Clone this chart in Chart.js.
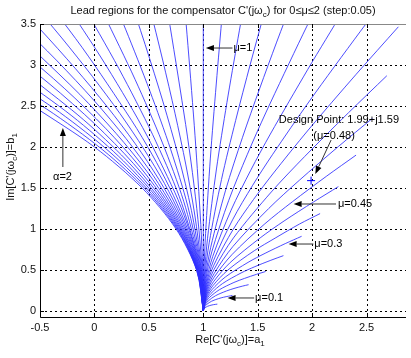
<!DOCTYPE html>
<html>
<head>
<meta charset="utf-8">
<script src="https://cdn.jsdelivr.net/npm/chart.js@4.4.0/dist/chart.umd.min.js"></script>
<style>
  html, body { margin: 0; padding: 0; background: #fff; }
  #wrap { width: 411px; height: 358px; }
</style>
</head>
<body>
<div id="wrap"><canvas id="chart"></canvas></div>
<script>
// one curve per mu, 0..2 step 0.05
const muValues = [0, 0.05, 0.1, 0.15, 0.2, 0.25, 0.3, 0.35, 0.4, 0.45, 0.5, 0.55, 0.6, 0.65, 0.7, 0.75, 0.8, 0.85, 0.9, 0.95,
  1, 1.05, 1.1, 1.15, 1.2, 1.25, 1.3, 1.35, 1.4, 1.45, 1.5, 1.55, 1.6, 1.65, 1.7, 1.75, 1.8, 1.85, 1.9, 1.95, 2];

// Re[C'] along each curve
const curveRe = [
  [1, 1],
  [1, 1.005, 1.017, 1.040, 1.071, 1.092, 1.129],
  [1, 1.010, 1.032, 1.077, 1.142, 1.186, 1.233, 1.268],
  [1, 1.014, 1.046, 1.113, 1.212, 1.282, 1.358, 1.416],
  [1, 1.018, 1.059, 1.146, 1.281, 1.379, 1.488, 1.573],
  [1, 1.021, 1.070, 1.176, 1.347, 1.474, 1.621, 1.736],
  [1, 1.024, 1.079, 1.203, 1.411, 1.568, 1.753, 1.903],
  [1, 1.026, 1.087, 1.227, 1.468, 1.660, 1.884, 2.073],
  [1, 1.028, 1.093, 1.247, 1.522, 1.742, 2.014, 2.241],
  [1, 1.029, 1.096, 1.262, 1.565, 1.818, 2.134, 2.403],
  [1, 1.029, 1.099, 1.272, 1.601, 1.882, 2.242, 2.554],
  [1, 1.029, 1.099, 1.277, 1.625, 1.932, 2.333, 2.686],
  [1, 1.028, 1.097, 1.276, 1.461, 1.638, 1.964, 2.401, 2.792],
  [1, 1.027, 1.093, 1.269, 1.454, 1.635, 1.975, 2.440, 2.862],
  [1, 1.025, 1.087, 1.255, 1.436, 1.616, 1.960, 2.124, 2.283],
  [1, 1.022, 1.078, 1.234, 1.405, 1.577, 1.913, 2.076],
  [1, 1.019, 1.068, 1.205, 1.359, 1.517, 1.674, 1.830],
  [1, 1.015, 1.054, 1.167, 1.297, 1.432, 1.568],
  [1, 1.011, 1.039, 1.121, 1.217, 1.319, 1.423],
  [1, 1.006, 1.021, 1.065, 1.119, 1.176],
  [1, 1, 1],
  [1, 0.998, 0.994, 0.977, 0.924, 0.859, 0.787],
  [1, 0.997, 0.987, 0.951, 0.900, 0.838, 0.694, 0.615],
  [1, 0.995, 0.979, 0.922, 0.840, 0.740, 0.627, 0.504],
  [1, 0.993, 0.971, 0.891, 0.774, 0.630, 0.466, 0.286],
  [1, 0.990, 0.962, 0.857, 0.701, 0.508, 0.286, 0.040],
  [1, 0.988, 0.952, 0.820, 0.622, 0.374, 0.085],
  [1, 0.985, 0.942, 0.780, 0.535, 0.225, -0.137],
  [1, 0.983, 0.931, 0.849, 0.738, 0.442, 0.064, -0.382],
  [1, 0.980, 0.920, 0.823, 0.692, 0.531, 0.341, -0.111, -0.650],
  [1, 0.977, 0.908, 0.796, 0.644, 0.455, 0.234, -0.019, -0.300, -0.608],
  [1, 0.973, 0.895, 0.767, 0.592, 0.375, 0.118, -0.176, -0.504, -0.865],
  [1, 0.970, 0.881, 0.736, 0.538, 0.290, -0.004, -0.343, -0.722],
  [1, 0.967, 0.867, 0.704, 0.481, 0.200, -0.134, -0.520],
  [1, 0.963, 0.852, 0.671, 0.421, 0.106, -0.272, -0.709],
  [1, 0.959, 0.837, 0.636, 0.358, 0.006, -0.417, -0.908],
  [1, 0.955, 0.821, 0.599, 0.292, -0.098, -0.569],
  [1, 0.951, 0.804, 0.561, 0.223, -0.207, -0.728],
  [1, 0.947, 0.787, 0.521, 0.152, -0.321, -0.895],
  [1, 0.942, 0.769, 0.480, 0.077, -0.440, -1.069],
  [1, 0.938, 0.750, 0.438, 0, -0.563],
];

// Im[C'] along each curve
const curveIm = [
  [0, 0],
  [0, 0.023, 0.040, 0.058, 0.071, 0.077, 0.084],
  [0, 0.047, 0.081, 0.120, 0.152, 0.168, 0.181, 0.190],
  [0, 0.071, 0.124, 0.187, 0.244, 0.275, 0.303, 0.321],
  [0, 0.095, 0.168, 0.258, 0.348, 0.398, 0.447, 0.482],
  [0, 0.119, 0.213, 0.334, 0.464, 0.541, 0.619, 0.675],
  [0, 0.143, 0.259, 0.415, 0.593, 0.704, 0.822, 0.911],
  [0, 0.168, 0.307, 0.501, 0.735, 0.889, 1.061, 1.188],
  [0, 0.193, 0.355, 0.591, 0.891, 1.098, 1.331, 1.517],
  [0, 0.218, 0.405, 0.686, 1.063, 1.332, 1.646, 1.901],
  [0, 0.243, 0.455, 0.787, 1.250, 1.594, 2.007, 2.350],
  [0, 0.268, 0.507, 0.891, 1.452, 1.885, 2.417, 2.869],
  [0, 0.294, 0.559, 0.999, 1.359, 1.671, 2.207, 2.882, 3.466],
  [0, 0.319, 0.612, 1.112, 1.534, 1.906, 2.560, 3.405, 4.149],
  [0, 0.345, 0.666, 1.229, 1.717, 2.158, 2.947, 3.309, 3.656],
  [0, 0.371, 0.721, 1.350, 1.911, 2.426, 3.368, 3.807],
  [0, 0.396, 0.776, 1.474, 2.113, 2.710, 3.279, 3.824],
  [0, 0.422, 0.831, 1.602, 2.323, 3.011, 3.673],
  [0, 0.448, 0.887, 1.732, 2.542, 3.327, 4.092],
  [0, 0.474, 0.944, 1.865, 2.768, 3.657],
  [0, 1.8, 3.7],
  [0, 0.263, 0.526, 1.057, 2.137, 3.238, 4.355],
  [0, 0.275, 0.552, 1.113, 1.688, 2.274, 3.480, 4.096],
  [0, 0.288, 0.578, 1.170, 1.781, 2.412, 3.060, 3.725],
  [0, 0.301, 0.604, 1.226, 1.875, 2.550, 3.249, 3.971],
  [0, 0.313, 0.630, 1.282, 1.968, 2.687, 3.437, 4.217],
  [0, 0.326, 0.656, 1.338, 2.060, 2.822, 3.623],
  [0, 0.338, 0.681, 1.393, 2.150, 2.955, 3.806],
  [0, 0.351, 0.707, 1.071, 1.448, 2.239, 3.085, 3.983],
  [0, 0.363, 0.732, 1.110, 1.501, 1.906, 2.325, 3.210, 4.154],
  [0, 0.376, 0.758, 1.149, 1.554, 1.974, 2.409, 2.861, 3.330, 3.815],
  [0, 0.389, 0.783, 1.187, 1.605, 2.039, 2.490, 2.958, 3.444, 3.948],
  [0, 0.401, 0.808, 1.225, 1.656, 2.103, 2.568, 3.050, 3.551],
  [0, 0.414, 0.833, 1.262, 1.705, 2.164, 2.641, 3.136],
  [0, 0.426, 0.857, 1.298, 1.753, 2.223, 2.710, 3.215],
  [0, 0.438, 0.882, 1.334, 1.799, 2.278, 2.774, 3.286],
  [0, 0.451, 0.906, 1.369, 1.843, 2.330, 2.832],
  [0, 0.463, 0.930, 1.403, 1.886, 2.379, 2.885],
  [0, 0.475, 0.954, 1.436, 1.926, 2.424, 2.930],
  [0, 0.488, 0.977, 1.469, 1.964, 2.464, 2.969],
  [0, 0.5, 1.0, 1.5, 2.0, 2.5],
];

const xTicks = [-0.5, 0, 0.5, 1, 1.5, 2, 2.5];
const yTicks = [0, 0.5, 1, 1.5, 2, 2.5, 3, 3.5];
const designPoint = [1.99, 1.59];

const FONT = '"Liberation Sans", Arial, Helvetica, sans-serif';

// text notes with arrows, in data coordinates
const arrowNotes = [
  { parts: [['μ=1']], tip: [1.024, 3.207], tail: [1.268, 3.207], at: [1.277, 3.207] },
  { parts: [['μ=0.45']], tip: [1.83, 1.305], tail: [2.219, 1.305], at: [2.237, 1.305] },
  { parts: [['μ=0.3']], tip: [1.784, 0.817], tail: [2.011, 0.817], at: [2.02, 0.817] },
  { parts: [['μ=0.1']], tip: [1.223, 0.159], tail: [1.467, 0.159], at: [1.476, 0.159] },
  { parts: [['α=2']], tip: [-0.29, 2.232], tail: [-0.29, 1.756], at: [-0.38, 1.634] },
  { parts: [['(μ=0.48)']], tip: [2.029, 1.671], tail: [2.174, 2.085], at: [2.011, 2.134] },
];

function drawRich(ctx, parts, x, y, align) {
  const big = '11px ' + FONT;
  const small = '8px ' + FONT;
  let w = 0;
  parts.forEach(p => { ctx.font = p[1] ? small : big; w += ctx.measureText(p[0]).width; });
  let cx = align === 'center' ? x - w / 2 : x;
  ctx.textAlign = 'left';
  ctx.textBaseline = 'middle';
  parts.forEach(p => {
    ctx.font = p[1] ? small : big;
    ctx.fillText(p[0], cx, p[1] ? y + 4 : y);
    cx += ctx.measureText(p[0]).width;
  });
}

function drawArrow(ctx, x1, y1, x2, y2) {
  const ang = Math.atan2(y2 - y1, x2 - x1);
  const len = 8, half = 3;
  ctx.beginPath();
  ctx.moveTo(x1, y1);
  ctx.lineTo(x2 - Math.cos(ang) * len, y2 - Math.sin(ang) * len);
  ctx.stroke();
  ctx.beginPath();
  ctx.moveTo(x2, y2);
  ctx.lineTo(x2 - Math.cos(ang) * len - Math.sin(ang) * half, y2 - Math.sin(ang) * len + Math.cos(ang) * half);
  ctx.lineTo(x2 - Math.cos(ang) * len + Math.sin(ang) * half, y2 - Math.sin(ang) * len - Math.cos(ang) * half);
  ctx.closePath();
  ctx.fill();
}

const gridPlugin = {
  id: 'matlabGrid',
  beforeDatasetsDraw(chart) {
    const { ctx, chartArea: a, scales: { x, y } } = chart;
    ctx.save();
    ctx.strokeStyle = '#000';
    ctx.lineWidth = 1;
    ctx.setLineDash([2, 3]);
    xTicks.forEach(v => {
      const px = Math.round(x.getPixelForValue(v)) + 0.5;
      ctx.beginPath(); ctx.moveTo(px, a.top); ctx.lineTo(px, a.bottom); ctx.stroke();
    });
    yTicks.forEach(v => {
      const py = Math.round(y.getPixelForValue(v)) + 0.5;
      ctx.beginPath(); ctx.moveTo(a.left, py); ctx.lineTo(a.right, py); ctx.stroke();
    });
    ctx.restore();
  },
  afterDatasetsDraw(chart) {
    const { ctx, chartArea: a, scales: { x, y } } = chart;
    ctx.save();
    ctx.lineWidth = 1;
    // box
    ctx.strokeStyle = '#888';
    ctx.beginPath(); ctx.moveTo(a.left, a.top + 0.5); ctx.lineTo(a.right, a.top + 0.5); ctx.stroke();
    ctx.strokeStyle = '#000';
    ctx.beginPath(); ctx.moveTo(a.left + 0.5, a.top); ctx.lineTo(a.left + 0.5, a.bottom + 0.5); ctx.lineTo(a.right, a.bottom + 0.5); ctx.stroke();
    // inward ticks
    xTicks.forEach(v => {
      const px = Math.round(x.getPixelForValue(v)) + 0.5;
      ctx.beginPath(); ctx.moveTo(px, a.bottom); ctx.lineTo(px, a.bottom - 4); ctx.stroke();
      ctx.beginPath(); ctx.moveTo(px, a.top); ctx.lineTo(px, a.top + 4); ctx.stroke();
    });
    yTicks.forEach(v => {
      const py = Math.round(y.getPixelForValue(v)) + 0.5;
      ctx.beginPath(); ctx.moveTo(a.left, py); ctx.lineTo(a.left + 4, py); ctx.stroke();
    });
    ctx.restore();
  },
  afterDraw(chart) {
    const { ctx, scales: { x, y } } = chart;
    ctx.save();
    ctx.fillStyle = '#111';
    drawRich(ctx, [["Lead regions for the compensator C'(jω"], ['c', 1], [') for 0≤μ≤2 (step:0.05)']], 223, 11, 'center');
    drawRich(ctx, [["Re[C'(jω"], ['c', 1], [')]=a'], ['1', 1]], 230, 340, 'center');
    ctx.save();
    ctx.translate(11, 167);
    ctx.rotate(-Math.PI / 2);
    drawRich(ctx, [["Im[C'(jω"], ['c', 1], [')]=b'], ['1', 1]], 0, 0, 'center');
    ctx.restore();

    ctx.strokeStyle = '#333';
    ctx.fillStyle = '#000';
    ctx.lineWidth = 1;
    arrowNotes.forEach(n => {
      drawArrow(ctx, x.getPixelForValue(n.tail[0]), y.getPixelForValue(n.tail[1]),
        x.getPixelForValue(n.tip[0]), y.getPixelForValue(n.tip[1]));
      drawRich(ctx, n.parts, x.getPixelForValue(n.at[0]), y.getPixelForValue(n.at[1]), 'left');
    });
    drawRich(ctx, [['Design Point: 1.99+j1.59']], x.getPixelForValue(1.694), y.getPixelForValue(2.329), 'left');
    ctx.restore();
  },
};

const datasets = muValues.map((mu, i) => ({
  label: 'mu=' + mu,
  data: curveRe[i].map((re, j) => ({ x: re, y: curveIm[i][j] })),
  showLine: true,
  borderColor: 'rgb(45,45,255)',
  borderWidth: 0.85,
  pointRadius: 0,
  tension: 0.3,
}));

datasets.push({
  label: 'design',
  data: [{ x: designPoint[0], y: designPoint[1] }],
  showLine: false,
  pointStyle: 'cross',
  pointRadius: 4,
  pointBorderColor: 'rgb(0,0,255)',
  pointBorderWidth: 1,
});

new Chart(document.getElementById('chart'), {
  type: 'scatter',
  data: { datasets },
  options: {
    responsive: true,
    maintainAspectRatio: false,
    animation: false,
    events: [],
    layout: { padding: { top: 24, right: 0, left: 0, bottom: 0 } },
    elements: { line: { capBezierPoints: false } },
    plugins: { legend: { display: false }, tooltip: { enabled: false } },
    scales: {
      x: {
        type: 'linear',
        min: -0.5,
        max: 2.862,
        afterBuildTicks: s => { s.ticks = xTicks.map(v => ({ value: v })); },
        afterFit: s => { s.height = 41; },
        grid: { display: false, drawTicks: false },
        border: { display: false },
        ticks: { color: '#111', padding: 4, font: { family: FONT, size: 11 }, callback: v => String(v) },
      },
      y: {
        type: 'linear',
        min: -0.073,
        max: 3.5,
        afterBuildTicks: s => { s.ticks = yTicks.map(v => ({ value: v })); },
        afterFit: s => { s.width = 40; },
        grid: { display: false, drawTicks: false },
        border: { display: false },
        ticks: { color: '#111', padding: 4, font: { family: FONT, size: 11 }, callback: v => String(v) },
      },
    },
  },
  plugins: [gridPlugin],
});
</script>
</body>
</html>
